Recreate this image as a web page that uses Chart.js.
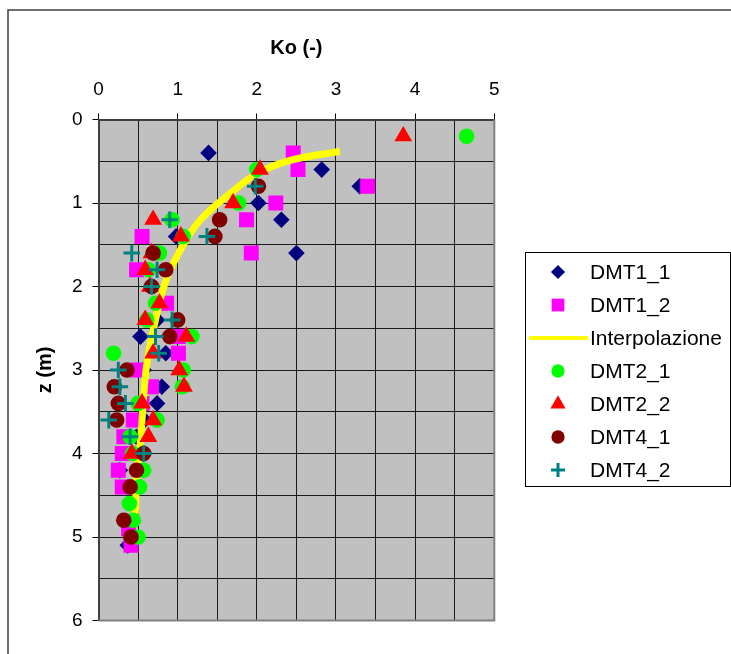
<!DOCTYPE html>
<html>
<head>
<meta charset="utf-8">
<script src="https://cdn.jsdelivr.net/npm/chart.js@4.4.1/dist/chart.umd.min.js"></script>
<style>
  body { margin: 0; background: #fff; }
  canvas { display: block; }
</style>
</head>
<body>
<canvas id="ko-chart" width="731" height="654"></canvas>
<script>
// depth z (m) and Ko values
const dmt11Z = [0.4, 0.6, 0.8, 1.0, 1.2, 1.4, 1.6, 2.4, 2.6, 2.8, 3.0, 3.2, 3.4, 3.6, 3.8, 4.0, 4.2, 5.1];
const dmt11K = [1.39, 2.82, 3.30, 2.02, 2.31, 0.98, 2.50, 0.74, 0.53, 0.85, 0.57, 0.80, 0.74, 0.58, 0.48, 0.50, 0.27, 0.37];

const dmt12Z = [0.4, 0.6, 0.8, 1.0, 1.2, 1.4, 1.6, 1.8, 2.2, 2.6, 2.8, 3.0, 3.2, 3.4, 3.6, 3.8, 4.0, 4.2, 4.4, 4.9, 5.1];
const dmt12K = [2.46, 2.52, 3.40, 2.24, 1.87, 0.55, 1.93, 0.48, 0.86, 1.01, 1.01, 0.50, 0.67, 0.55, 0.44, 0.32, 0.30, 0.25, 0.30, 0.38, 0.41];

const interpZ = [0.38, 0.49, 0.65, 0.89, 1.21, 1.57, 1.96, 2.53, 2.93, 3.33, 3.85, 4.24, 4.6, 4.8];
const interpK = [3.05, 2.42, 2.00, 1.66, 1.28, 1.03, 0.84, 0.69, 0.61, 0.57, 0.53, 0.48, 0.47, 0.46];

const dmt21Z = [0.2, 0.6, 1.0, 1.2, 1.4, 1.6, 1.8, 2.2, 2.4, 2.6, 2.8, 3.0, 3.2, 3.4, 3.6, 3.8, 4.0, 4.2, 4.4, 4.6, 4.8, 5.0];
const dmt21K = [4.65, 2.00, 1.77, 0.93, 1.07, 0.77, 0.63, 0.72, 0.61, 1.18, 0.19, 1.07, 1.06, 0.50, 0.74, 0.40, 0.43, 0.57, 0.52, 0.39, 0.44, 0.50];

const dmt22Z = [0.2, 0.6, 1.0, 1.2, 1.4, 1.6, 1.8, 2.0, 2.2, 2.4, 2.6, 2.8, 3.0, 3.2, 3.4, 3.6, 3.8, 4.0];
const dmt22K = [3.85, 2.04, 1.70, 0.69, 1.04, 0.67, 0.59, 0.65, 0.77, 0.59, 1.11, 0.69, 1.02, 1.08, 0.55, 0.69, 0.63, 0.42];

const dmt41Z = [0.8, 1.2, 1.4, 1.6, 1.8, 2.0, 2.4, 2.6, 3.0, 3.2, 3.4, 3.6, 4.0, 4.2, 4.4, 4.8, 5.0];
const dmt41K = [2.02, 1.53, 1.47, 0.69, 0.85, 0.67, 1.00, 0.90, 0.36, 0.20, 0.25, 0.23, 0.57, 0.48, 0.40, 0.32, 0.41];

const dmt42Z = [0.8, 1.2, 1.4, 1.6, 1.8, 2.0, 2.4, 2.6, 2.8, 3.0, 3.2, 3.4, 3.6, 3.8, 4.0];
const dmt42K = [1.98, 0.90, 1.37, 0.42, 0.74, 0.67, 0.93, 0.72, 0.76, 0.25, 0.27, 0.34, 0.13, 0.40, 0.57];

const xTicks = [0, 1, 2, 3, 4, 5];
const yTicks = [0, 1, 2, 3, 4, 5, 6];

function pts(ks, zs) {
  return ks.map((k, i) => ({ x: k, y: zs[i] }));
}

const FONT = "'Liberation Sans', Arial, sans-serif";

// legend drawn inside a framed box on the right
const legendBox = {
  id: "legendBox",
  beforeDraw(chart) {
    const { ctx, chartArea } = chart;
    ctx.save();
    // outer frame
    ctx.strokeStyle = "#404040";
    ctx.lineWidth = 1.5;
    ctx.beginPath();
    ctx.moveTo(8, 654);
    ctx.lineTo(8, 10);
    ctx.lineTo(731, 10);
    ctx.stroke();
    // plot background
    ctx.fillStyle = "#C0C0C0";
    ctx.fillRect(chartArea.left, chartArea.top, chartArea.right - chartArea.left, chartArea.bottom - chartArea.top);
    ctx.restore();
  },
  afterDatasetsDraw(chart) {
    const { ctx, chartArea } = chart;
    ctx.save();
    ctx.strokeStyle = "#808080";
    ctx.lineWidth = 2;
    ctx.beginPath();
    ctx.moveTo(chartArea.right, chartArea.top);
    ctx.lineTo(chartArea.right, chartArea.bottom);
    ctx.lineTo(chartArea.left, chartArea.bottom);
    ctx.stroke();
    ctx.restore();
  },
  afterDraw(chart) {
    const ctx = chart.ctx;
    ctx.save();
    ctx.fillStyle = "#fff";
    ctx.fillRect(525.5, 252.5, 205, 234);
    ctx.strokeStyle = "#000";
    ctx.lineWidth = 1;
    ctx.strokeRect(525.5, 252.5, 205, 234);
    ctx.font = "21px " + FONT;
    ctx.textBaseline = "middle";
    chart.data.datasets.forEach((ds, i) => {
      const y = 272 + i * 33;
      if (ds.showLine) {
        ctx.strokeStyle = ds.borderColor;
        ctx.lineWidth = 4;
        ctx.beginPath();
        ctx.moveTo(529, y);
        ctx.lineTo(588, y);
        ctx.stroke();
      } else {
        ctx.fillStyle = ds.pointBackgroundColor;
        ctx.strokeStyle = ds.pointBorderColor;
        ctx.lineWidth = ds.pointBorderWidth;
        Chart.helpers.drawPoint(ctx, {
          pointStyle: ds.pointStyle,
          radius: ds.pointRadius * 0.85,
          rotation: 0,
          borderWidth: ds.pointBorderWidth
        }, 558, y);
      }
      ctx.fillStyle = "#000";
      ctx.fillText(ds.label, 590, y + 1);
    });
    ctx.restore();
  }
};

function marker(label, data, style, color, radius, order, border) {
  return {
    label: label,
    data: data,
    pointStyle: style,
    pointRadius: radius,
    pointBackgroundColor: color,
    pointBorderColor: color,
    pointBorderWidth: border || 0,
    showLine: false,
    order: order
  };
}

new Chart(document.getElementById("ko-chart"), {
  type: "scatter",
  data: {
    datasets: [
      marker("DMT1_1", pts(dmt11K, dmt11Z), "rectRot", "#000080", 8.3, 7),
      marker("DMT1_2", pts(dmt12K, dmt12Z), "rect", "#FF00FF", 10.6, 6),
      {
        label: "Interpolazione",
        data: pts(interpK, interpZ),
        showLine: true,
        borderColor: "#FFFF00",
        borderWidth: 7,
        pointRadius: 0,
        tension: 0.4,
        fill: false,
        order: 5
      },
      marker("DMT2_1", pts(dmt21K, dmt21Z), "circle", "#00FF00", 7.8, 4),
      marker("DMT2_2", pts(dmt22K, dmt22Z), "triangle", "#FF0000", 10.3, 3),
      marker("DMT4_1", pts(dmt41K, dmt41Z), "circle", "#800000", 7.8, 2),
      marker("DMT4_2", pts(dmt42K, dmt42Z), "cross", "#008080", 8.3, 1, 3)
    ]
  },
  options: {
    responsive: false,
    animation: false,
    devicePixelRatio: 1,
    layout: { padding: { left: 0, top: 0, right: 236.7, bottom: 33.5 } },
    plugins: {
      legend: { display: false },
      tooltip: { enabled: false }
    },
    scales: {
      x: {
        type: "linear",
        position: "top",
        min: 0,
        max: 5,
        afterFit(scale) { scale.height = 119.5; },
        title: {
          display: true,
          text: "Ko (-)",
          color: "#000",
          font: { family: FONT, size: 20, weight: "bold" },
          padding: { top: 36, bottom: 0 }
        },
        ticks: {
          stepSize: 0.5,
          autoSkip: false,
          maxRotation: 0,
          padding: 12,
          color: "#000",
          font: { family: FONT, size: 19 },
          callback: v => xTicks.includes(v) ? String(v) : ""
        },
        grid: {
          color: "#1a1a1a",
          lineWidth: 1,
          tickLength: 6,
          tickColor: c => (c.tick && xTicks.includes(c.tick.value)) ? "#000" : "rgba(0,0,0,0)"
        },
        border: { color: "#404040", width: 2 }
      },
      y: {
        type: "linear",
        reverse: true,
        min: 0,
        max: 6,
        afterFit(scale) { scale.width = 98.5; },
        title: {
          display: true,
          text: "z (m)",
          color: "#000",
          font: { family: FONT, size: 20, weight: "bold" },
          padding: { top: 33, bottom: 0 }
        },
        ticks: {
          stepSize: 0.5,
          autoSkip: false,
          padding: 10,
          color: "#000",
          font: { family: FONT, size: 19 },
          callback: v => yTicks.includes(v) ? String(v) : ""
        },
        grid: {
          color: "#1a1a1a",
          lineWidth: 1,
          tickLength: 6,
          tickColor: c => (c.tick && yTicks.includes(c.tick.value)) ? "#000" : "rgba(0,0,0,0)"
        },
        border: { color: "#404040", width: 2 }
      }
    }
  },
  plugins: [legendBox]
});
</script>
</body>
</html>
